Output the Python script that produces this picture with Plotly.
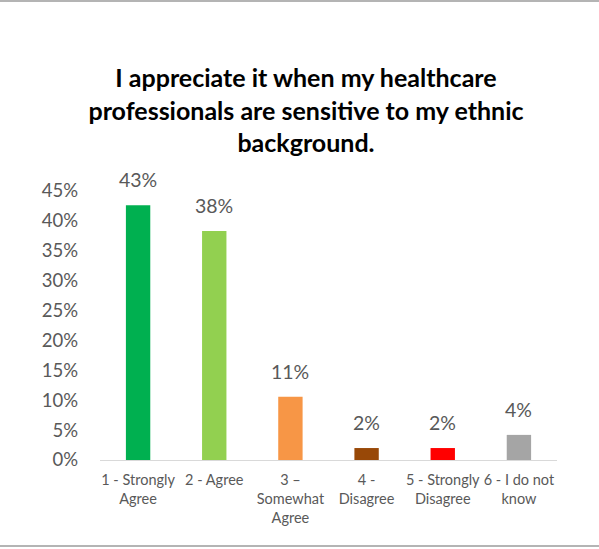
import plotly.graph_objects as go

# Survey responses
categories = [
    "1 - Strongly<br>Agree",
    "2 - Agree",
    "3 –<br>Somewhat<br>Agree",
    "4 -<br>Disagree",
    "5 - Strongly<br>Disagree",
    "6 - I do not<br>know",
]
shares = [0.426, 0.383, 0.106, 0.020, 0.020, 0.042]
bar_colors = ["#00B050", "#92D050", "#F79646", "#984807", "#FF0000", "#A5A5A5"]
y_ticks = [0, 0.05, 0.10, 0.15, 0.20, 0.25, 0.30, 0.35, 0.40, 0.45]
y_tick_text = [f"{round(v * 100)}%" for v in y_ticks]

title_text = ("I appreciate it when my healthcare<br>"
              "professionals are sensitive to my ethnic<br>"
              "background.")

W, H = 599, 549
ML, MR, MT, MB = 100, 42, 191, 89
plot_w = W - ML - MR
plot_h = H - MT - MB

FONT = "Lato"
GREY_TXT = "#595959"

fig = go.Figure(
    go.Bar(
        x=categories,
        y=shares,
        marker=dict(color=bar_colors, line=dict(width=0)),
        width=0.32,
        hoverinfo="skip",
    )
)

# value labels above each bar
for cat, v in zip(categories, shares):
    fig.add_annotation(
        x=cat, y=v, xref="x", yref="y",
        text=f"{round(v * 100)}%",
        showarrow=False, yanchor="bottom", yshift=12,
        font=dict(family=FONT, size=19.5, color=GREY_TXT),
    )

# thin frame lines at top and bottom of the chart area
def px_to_paper_x(px):
    return (px - ML) / plot_w

def px_to_paper_y(py):
    return (H - py - MB) / plot_h

for py in (1, 546):
    fig.add_shape(
        type="line", xref="paper", yref="paper",
        x0=px_to_paper_x(0), x1=px_to_paper_x(W),
        y0=px_to_paper_y(py), y1=px_to_paper_y(py),
        line=dict(color="#B4B4B4", width=2),
    )

fig.update_layout(
    width=W, height=H,
    margin=dict(l=ML, r=MR, t=MT, b=MB, autoexpand=False),
    paper_bgcolor="white",
    plot_bgcolor="white",
    showlegend=False,
    title=dict(
        text=title_text,
        x=306 / W, xanchor="center",
        y=1 - 87 / H, yanchor="top",
        font=dict(family=FONT, size=25, color="#000000", weight="bold"),
    ),
    bargap=0.68,
    xaxis=dict(
        showline=True, linecolor="#D9D9D9", linewidth=1,
        ticks="", showgrid=False, tickangle=0, automargin=False,
        tickfont=dict(family=FONT, size=14.5, color=GREY_TXT),
        ticklabelstandoff=7,
    ),
    yaxis=dict(
        range=[0, 0.45],
        tickvals=y_ticks, ticktext=y_tick_text, automargin=False,
        showgrid=False, zeroline=False, showline=False, ticks="",
        tickfont=dict(family=FONT, size=18.5, color=GREY_TXT),
        ticklabelstandoff=21,
    ),
)

fig.write_html("out.html")
